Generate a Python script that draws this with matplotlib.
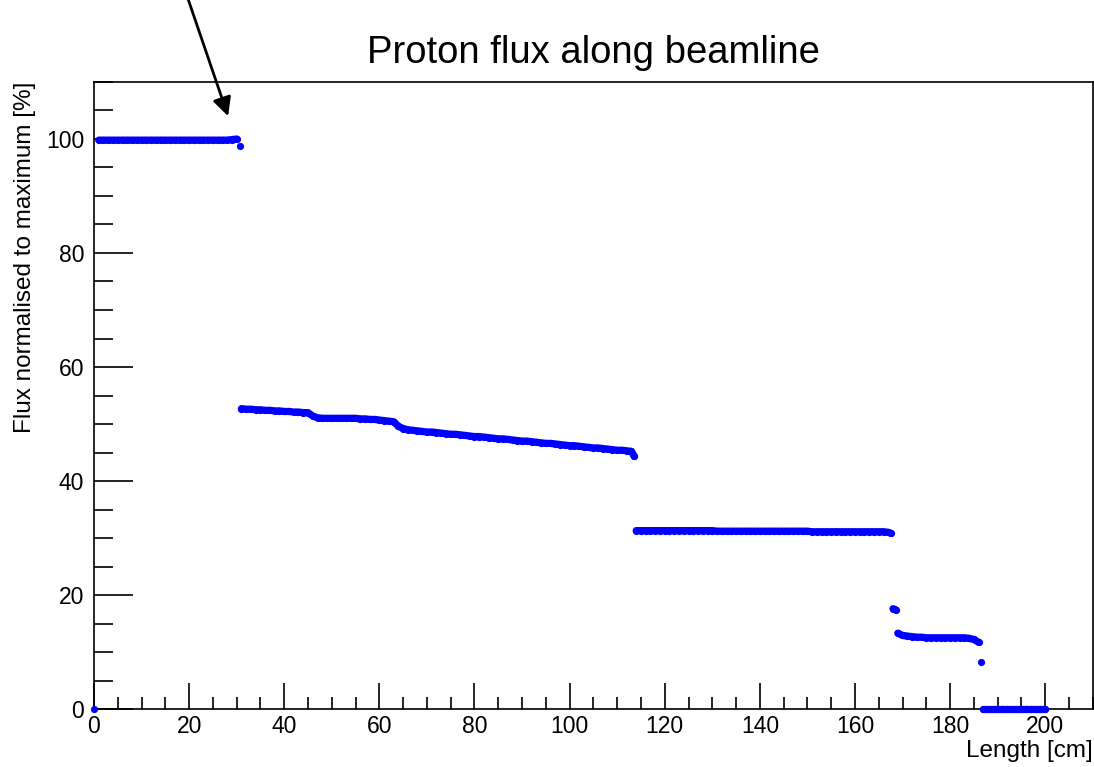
import matplotlib.pyplot as plt
from matplotlib.ticker import MultipleLocator

plt.rcParams["font.family"] = ["Liberation Sans", "DejaVu Sans"]

# position along beamline [cm]
length = (
    [0]
    + list(range(1, 31))
    + [30.6]
    + list(range(31, 114))
    + [113.6]
    + list(range(114, 168))
    + [167.6, 168, 168.6]
    + list(range(169, 187))
    + [186.6]
    + list(range(187, 201))
)

# flux normalised to maximum [%]
flux = (
    [0.0]
    # 1 - 30
    + [99.8, 99.8, 99.8, 99.8, 99.8, 99.8, 99.8, 99.8, 99.8, 99.8,
       99.8, 99.8, 99.8, 99.8, 99.8, 99.8, 99.8, 99.8, 99.8, 99.8,
       99.8, 99.8, 99.8, 99.8, 99.8, 99.8, 99.8, 99.8, 99.9, 100.0]
    + [98.7]
    # 31 - 113
    + [52.7, 52.6, 52.6, 52.5, 52.5, 52.4, 52.4, 52.3, 52.3, 52.2,
       52.2, 52.1, 52.1, 52.0, 52.0, 51.4, 51.1, 51.0, 51.0, 51.0,
       51.0, 51.0, 51.0, 51.0, 51.0, 50.9, 50.9, 50.8, 50.8, 50.7,
       50.6, 50.5, 50.4, 49.6, 49.2, 49.0, 48.9, 48.8, 48.7, 48.6,
       48.6, 48.5, 48.4, 48.3, 48.2, 48.2, 48.1, 48.0, 47.9, 47.8,
       47.8, 47.7, 47.6, 47.5, 47.4, 47.4, 47.3, 47.2, 47.1, 47.0,
       47.0, 46.9, 46.8, 46.7, 46.6, 46.6, 46.5, 46.4, 46.3, 46.2,
       46.2, 46.1, 46.0, 45.9, 45.8, 45.8, 45.7, 45.6, 45.5, 45.4,
       45.4, 45.3, 45.2]
    + [44.3]
    # 114 - 167
    + [31.3, 31.3, 31.3, 31.3, 31.3, 31.3, 31.3, 31.3, 31.3, 31.3,
       31.3, 31.3, 31.3, 31.3, 31.3, 31.3, 31.3, 31.2, 31.2, 31.2,
       31.2, 31.2, 31.2, 31.2, 31.2, 31.2, 31.2, 31.2, 31.2, 31.2,
       31.2, 31.2, 31.2, 31.2, 31.2, 31.2, 31.2, 31.1, 31.1, 31.1,
       31.1, 31.1, 31.1, 31.1, 31.1, 31.1, 31.1, 31.1, 31.1, 31.1,
       31.1, 31.1, 31.1, 31.0]
    + [30.8, 17.6, 17.4]
    # 169 - 186
    + [13.3, 12.9, 12.8, 12.7, 12.6, 12.6, 12.5, 12.5, 12.5, 12.5,
       12.5, 12.5, 12.5, 12.5, 12.5, 12.4, 12.2, 11.7]
    + [8.3]
    # 187 - 200
    + [0.0, 0.0, 0.0, 0.0, 0.0, 0.0, 0.0, 0.0, 0.0, 0.0,
       0.0, 0.0, 0.0, 0.0]
)

BLUE = "#0000ff"


def segments(xs, ys, max_jump=1.0):
    # split the dense point series where the flux jumps
    start = 0
    for i in range(1, len(xs)):
        if abs(ys[i] - ys[i - 1]) > max_jump:
            yield xs[start:i], ys[start:i]
            start = i
    yield xs[start:], ys[start:]


def main() -> None:
    fig = plt.figure(figsize=(10.94, 7.67), dpi=100)
    ax = fig.add_axes([0.0859, 0.0756, 0.913, 0.8175])

    for xs, ys in segments(length, flux):
        ax.plot(xs, ys, color=BLUE, lw=5.2, solid_capstyle="round",
                solid_joinstyle="round", clip_on=False, zorder=3)
    ax.plot(length, flux, linestyle="none", marker="o", markersize=5.2,
            color=BLUE, markeredgewidth=0, clip_on=False, zorder=3)

    ax.set_xlim(0, 210)
    ax.set_ylim(0, 110)
    ax.xaxis.set_major_locator(MultipleLocator(20))
    ax.xaxis.set_minor_locator(MultipleLocator(5))
    ax.yaxis.set_major_locator(MultipleLocator(20))
    ax.yaxis.set_minor_locator(MultipleLocator(5))
    ax.tick_params(axis="both", which="both", direction="in", labelsize=16.5,
                   width=1.2, color="black")
    ax.tick_params(axis="x", which="major", length=19, pad=4)
    ax.tick_params(axis="x", which="minor", length=9)
    ax.tick_params(axis="y", which="major", length=28, pad=7)
    ax.tick_params(axis="y", which="minor", length=14)
    for spine in ax.spines.values():
        spine.set_linewidth(1.2)

    ax.set_title("Proton flux along beamline", fontsize=27.5, pad=14)
    ax.set_xlabel("Length [cm]", fontsize=17.5, loc="right", labelpad=2)
    ax.set_ylabel("Flux normalised to maximum [%]", fontsize=17.5, loc="top",
                  labelpad=7)

    ax.annotate("", xy=(28.2, 104), xytext=(19.6, 125),
                arrowprops=dict(arrowstyle="-|>", color="black", lw=2,
                                mutation_scale=28, shrinkA=0, shrinkB=0),
                annotation_clip=False)

    fig.savefig("out.png", dpi=100)
    plt.close(fig)


if __name__ == "__main__":
    main()
